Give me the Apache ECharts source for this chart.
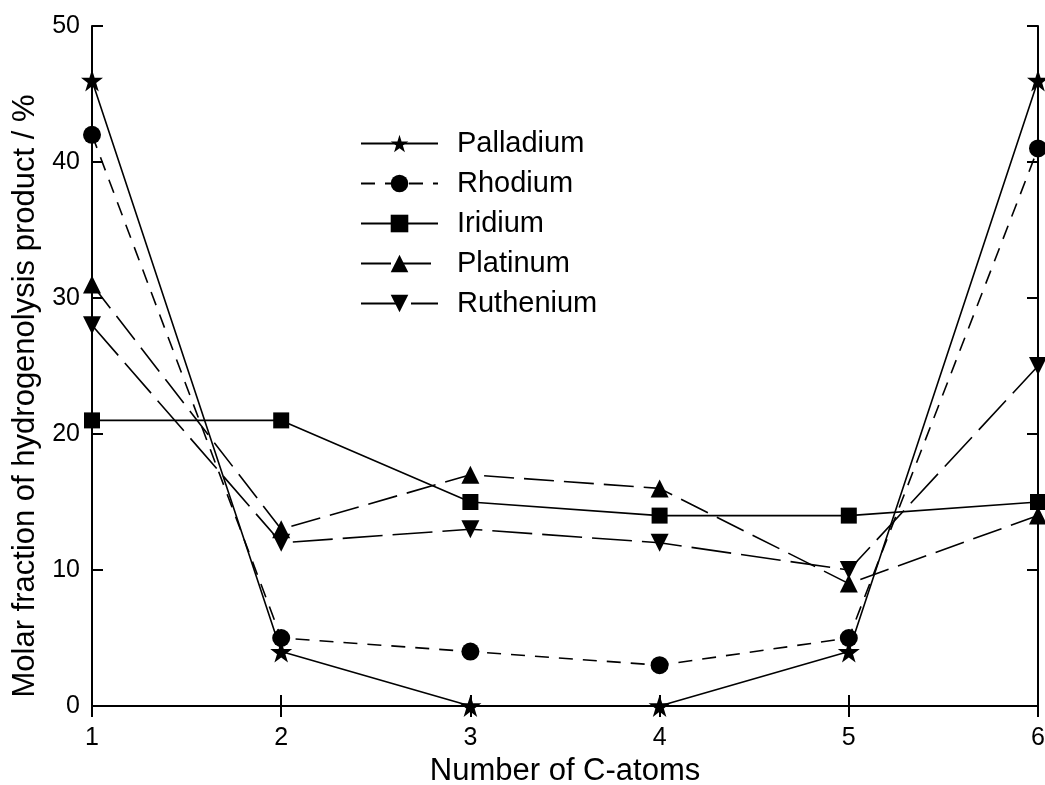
<!DOCTYPE html>
<html><head><meta charset="utf-8">
<script src="https://cdn.jsdelivr.net/npm/echarts@6/dist/echarts.min.js"></script>
<style>html,body{margin:0;padding:0;background:#fff}#c{width:1045px;height:785px}</style>
</head><body><div id="c"></div>
<script>
const categories = [1, 2, 3, 4, 5, 6];
const palladium = [46, 4, 0, 0, 4, 46];
const rhodium = [42, 5, 4, 3, 5, 41];
const iridium = [21, 21, 15, 14, 14, 15];
const platinum = [31, 13, 17, 16, 9, 14];
const ruthenium = [28, 12, 13, 12, 10, 25];
const yTicks = [0, 10, 20, 30, 40, 50];

const starPath = 'path://M50,0 L61.8,35.5 L100,35.5 L69.1,57.6 L80.9,93.5 L50,71.5 L19.1,93.5 L30.9,57.6 L0,35.5 L38.2,35.5 Z';
const font = 'Liberation Sans, Arial, sans-serif';

function mk(name, data, symbol, size, dash) {
  return {
    name, type: 'line', data: categories.map((c, i) => [c, data[i]]),
    symbol, symbolSize: size,
    itemStyle: { color: '#000' },
    lineStyle: { color: '#000', width: 1.6, type: dash },
    clip: false, z: 3
  };
}
const axLine = { lineStyle: { color: '#000', width: 2 } };
const axTick = { inside: true, length: 11, lineStyle: { color: '#000', width: 2 } };
const chart = echarts.init(document.getElementById('c'));
chart.setOption({
  animation: false,
  backgroundColor: '#fff',
  grid: { left: 92, right: 7, top: 26, bottom: 79, containLabel: false, outerBoundsMode: 'none' },
  legend: {
    orient: 'vertical', left: 355, top: 123, itemWidth: 77, itemHeight: 22, itemGap: 9,
    textStyle: { fontFamily: font, fontSize: 29, lineHeight: 31, color: '#000', padding: [0, 0, 0, 14] },
    data: ['Palladium', 'Rhodium', 'Iridium', 'Platinum', 'Ruthenium']
  },
  xAxis: [{
    type: 'value', min: 1, max: 6, interval: 1,
    name: 'Number of C-atoms', nameLocation: 'middle', nameGap: 40,
    nameTextStyle: { fontFamily: font, fontSize: 31, color: '#000' },
    axisLine: axLine, axisTick: axTick,
    axisLabel: { fontFamily: font, fontSize: 25, color: '#000', margin: 20 },
    splitLine: { show: false }
  }, {
    type: 'value', min: 1, max: 6, interval: 1, position: 'top',
    axisLine: axLine, axisTick: axTick, axisLabel: { show: false }, splitLine: { show: false }
  }],
  yAxis: [{
    type: 'value', min: 0, max: 50, interval: 10,
    axisLine: axLine, axisTick: axTick,
    axisLabel: { fontFamily: font, fontSize: 25, color: '#000', margin: 12,
      formatter: v => yTicks.includes(v) ? String(v) : '' },
    splitLine: { show: false }
  }, {
    type: 'value', min: 0, max: 50, interval: 10, position: 'right',
    axisLine: axLine, axisTick: axTick, axisLabel: { show: false }, splitLine: { show: false }
  }],
  graphic: [{
    type: 'text', x: 25, y: 396, rotation: Math.PI / 2,
    style: { text: 'Molar fraction of hydrogenolysis product / %', fontFamily: font, fontSize: 31,
      fill: '#000', align: 'center', verticalAlign: 'middle' }
  }],
  series: [
    mk('Palladium', palladium, starPath, 22, 'solid'),
    mk('Rhodium', rhodium, 'circle', 18, [14, 10]),
    mk('Iridium', iridium, 'rect', 16, 'solid'),
    mk('Platinum', platinum, 'triangle', 18, [30, 10]),
    mk('Ruthenium', ruthenium, 'path://M0,0 L100,0 L50,90 Z', 18, [40, 10])
  ]
});
</script></body></html>
